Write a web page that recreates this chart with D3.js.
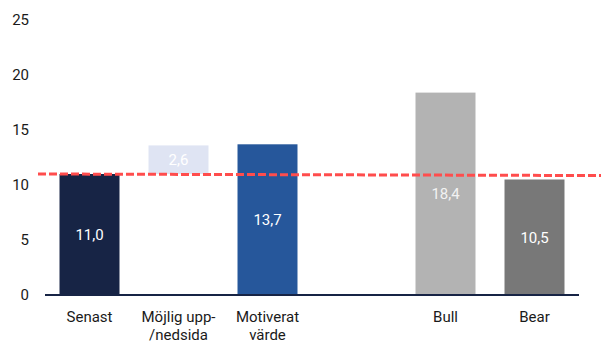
<!DOCTYPE html>
<html><head><meta charset="utf-8">
<script src="https://cdn.jsdelivr.net/npm/d3@7"></script>
<style>body{margin:0;background:#fff}svg{display:block;font-family:Roboto,"Noto Sans",sans-serif}</style>
</head><body>
<svg id="c" width="601" height="343"></svg>
<script>
const categories = ["Senast", "Möjlig upp-/nedsida", "Motiverat värde", "", "Bull", "Bear"];
const labelLines = [["Senast"], ["Möjlig upp-", "/nedsida"], ["Motiverat", "värde"], [], ["Bull"], ["Bear"]];
const barBase = [0, 11.0, 0, null, 0, 0];
const barValue = [11.0, 2.6, 13.7, null, 18.4, 10.5];
const valueLabels = ["11,0", "2,6", "13,7", "", "18,4", "10,5"];
const barColors = ["#172445", "#dfe4f3", "#26579b", "none", "#b3b3b3", "#787878"];
const yTicks = [0, 5, 10, 15, 20, 25];
const refLine = [11.0, 10.86];

const svg = d3.select("#c");
const x = d3.scaleBand().domain(d3.range(categories.length)).range([45, 579]).paddingInner(0.326).paddingOuter(0.163);
const y = d3.scaleLinear().domain([0, 25]).range([295, 20]);

// y tick labels
svg.append("g").selectAll("text").data(yTicks).join("text")
  .attr("x", 29).attr("y", d => y(d)).attr("dy", "0.35em")
  .attr("text-anchor", "end").attr("font-size", 15).attr("fill", "#1a1a1a")
  .text(d => d);

const idx = d3.range(categories.length).filter(i => barValue[i] != null);
svg.append("g").selectAll("rect").data(idx).join("rect")
  .attr("x", i => x(i)).attr("width", x.bandwidth())
  .attr("y", i => y(barBase[i] + barValue[i]))
  .attr("height", i => y(barBase[i]) - y(barBase[i] + barValue[i]))
  .attr("fill", i => barColors[i]);

// axis line
svg.append("line").attr("x1", 45).attr("x2", 579).attr("y1", y(0)).attr("y2", y(0))
  .attr("stroke", "#172445").attr("stroke-width", 2);

// reference dashed line
svg.append("line").attr("x1", 38).attr("x2", 601)
  .attr("y1", y(refLine[0])).attr("y2", y(refLine[1]))
  .attr("stroke", "#ff4d4d").attr("stroke-width", 3).attr("stroke-dasharray", "8,3");

// value labels
svg.append("g").selectAll("text").data(idx).join("text")
  .attr("x", i => x(i) + x.bandwidth() / 2)
  .attr("y", i => (y(barBase[i]) + y(barBase[i] + barValue[i])) / 2)
  .attr("dy", "0.35em").attr("text-anchor", "middle").attr("font-size", 15)
  .attr("fill", i => i === 4 ? "#f2f2f2" : "#ffffff")
  .text(i => valueLabels[i]);

// category labels
const cg = svg.append("g");
labelLines.forEach((lines, i) => {
  lines.forEach((t, j) => {
    cg.append("text").attr("x", x(i) + x.bandwidth() / 2).attr("y", 322 + j * 18)
      .attr("text-anchor", "middle").attr("font-size", 15).attr("fill", "#1a1a1a").text(t);
  });
});
</script>
</body></html>
